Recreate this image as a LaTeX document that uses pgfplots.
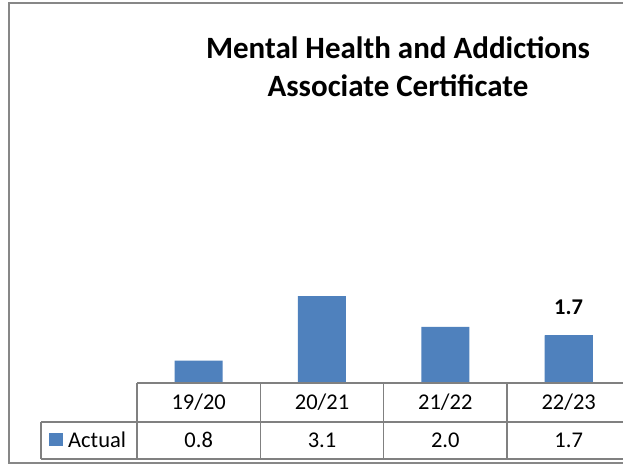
\documentclass[border=0pt]{standalone}
\usepackage{pgfplots}
\pgfplotsset{compat=1.18}
\usepackage{fontspec}
\setmainfont{Carlito}
\definecolor{barblue}{HTML}{4F81BD}
\definecolor{framegray}{HTML}{878787}
\definecolor{gridgray}{HTML}{808080}
\begin{document}
\begin{tikzpicture}[x=1pt,y=1pt]
\useasboundingbox (0,0) rectangle (623,465);
\clip (0,0) rectangle (623,465);
\fill[white] (0,0) rectangle (623,465);
% outer chart frame
\draw[framegray, line width=1.8pt] (9,2) rectangle (650,462);
% title
\node[font=\fontsize{31}{38}\selectfont\bfseries, anchor=base, inner sep=0pt] at (398,406.7) {Mental Health and Addictions};
\node[font=\fontsize{31}{38}\selectfont\bfseries, anchor=base, inner sep=0pt] at (398,368.3) {Associate Certificate};
\begin{axis}[
  at={(137pt,82pt)}, anchor=south west,
  scale only axis, width=493.3pt, height=280pt,
  xmin=0.5, xmax=4.5, ymin=0, ymax=10,
  hide axis,
  ybar, bar width=48pt,
  /pgf/number format/assume math mode=true,
]
\addplot[fill=barblue, draw=none, bar shift=0pt] coordinates {(1,0.8) (2,3.1) (3,2.0) (4,1.7)};
\addplot[fill=barblue, draw=none, bar shift=0pt,
  nodes near coords,
  every node near coord/.append style={font=\fontsize{22.5}{26}\selectfont\bfseries, anchor=base, inner sep=0pt, yshift=20.4pt, text=black},
  nodes near coords={\pgfmathprintnumber[fixed, fixed zerofill, precision=1, assume math mode=true]{\pgfplotspointmeta}}
] coordinates {(4,1.7)};
\end{axis}
% data table
\begin{scope}[gridgray, line width=1.3pt]
\draw (137,82) -- (650,82);
\draw (41,43) -- (650,43);
\draw (41,6) -- (650,6);
\draw (41,6) -- (41,43);
\foreach \xx in {137,260.3,383.7,507,630.3} {\draw (\xx,6) -- (\xx,82);}
\end{scope}
\fill[barblue] (49,19) rectangle (63,32);
\begin{scope}[font=\fontsize{22.5}{27}\selectfont, every node/.style={anchor=base, inner sep=0pt}]
\node[anchor=base west] at (68,17.7) {Actual};
\node at (198.7,55) {19/20};
\node at (322,55) {20/21};
\node at (445.3,55) {21/22};
\node at (568.7,55) {22/23};
\node at (198.7,17.7) {0.8};
\node at (322,17.7) {3.1};
\node at (445.3,17.7) {2.0};
\node at (568.7,17.7) {1.7};
\end{scope}
\end{tikzpicture}
\end{document}
